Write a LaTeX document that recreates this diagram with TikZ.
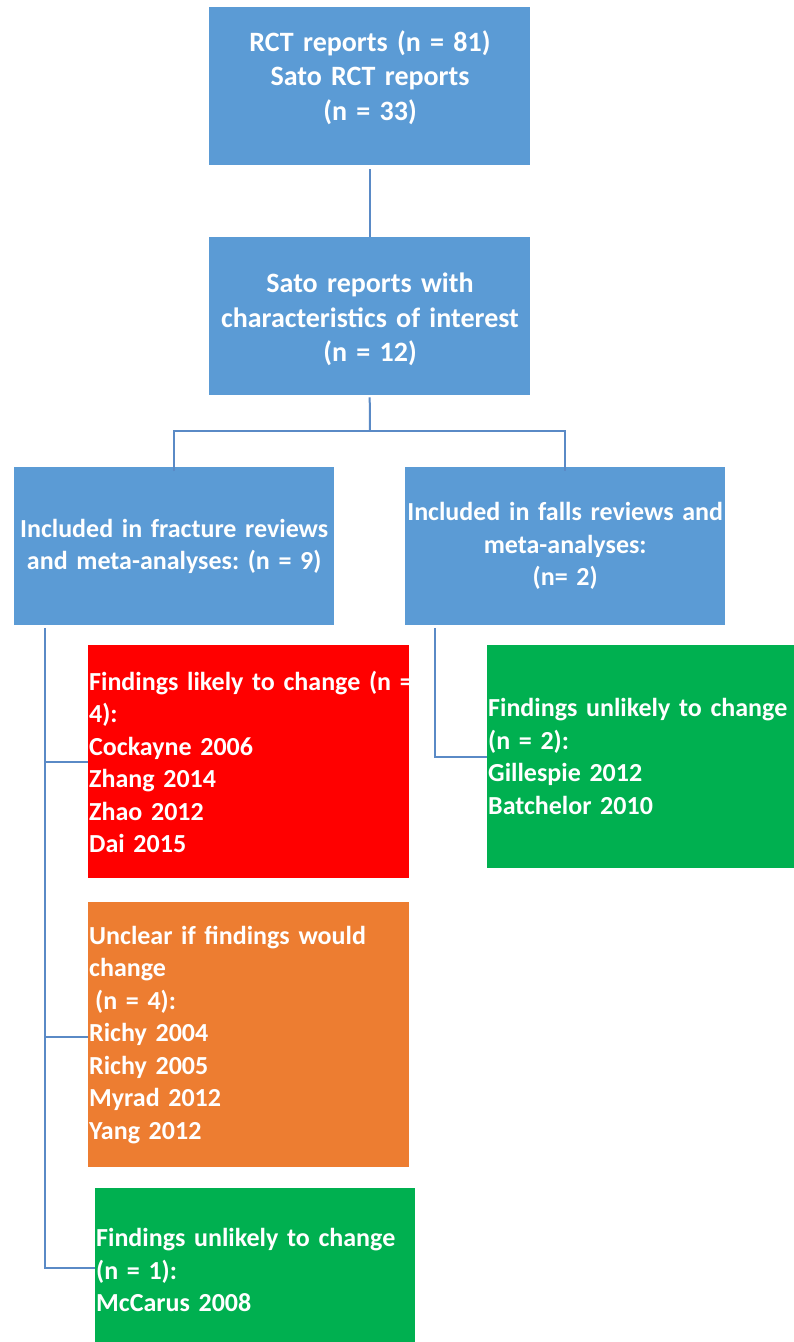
\documentclass[tikz,border=0pt]{standalone}
\usepackage{fontspec}
\setmainfont{Carlito}[BoldFont={Carlito Bold}]
\definecolor{boxblue}{HTML}{5B9BD5}
\definecolor{linkblue}{HTML}{5A8AC6}
\definecolor{boxred}{HTML}{FF0000}
\definecolor{boxorange}{HTML}{ED7D31}
\definecolor{boxgreen}{HTML}{00B050}
\frenchspacing
\begin{document}
\begin{tikzpicture}[x=1pt,y=-1pt,
  box/.style={anchor=north west, inner xsep=1pt, inner ysep=0pt, text=white,
    font=\bfseries\fontsize{26}{32.5}\selectfont},
  cbox/.style={box, align=center},
  lbox/.style={box, align=left},
  toptext/.style={anchor=center, inner sep=0pt, text=white, align=center,
    text width=319pt, font=\bfseries\fontsize{28}{34.5}\selectfont},
  link/.style={draw=linkblue, line width=2pt}]
\useasboundingbox (0,0) rectangle (794,1342);
\fill[white] (0,0) rectangle (794,1342);
\node[box, fill=boxblue, minimum width=321pt, minimum height=158pt] (b1) at (209,7) {};
\node[toptext] (b1t) at (370,77.5) {RCT reports (n = 81)\\Sato RCT reports\\(n = 33)};
\node[box, fill=boxblue, minimum width=321pt, minimum height=158pt] (b2) at (209,237) {};
\node[toptext] (b2t) at (370,319.5) {Sato reports with\\characteristics of interest\\(n = 12)};
\node[cbox, fill=boxblue, text width=318pt, minimum height=158pt] (b3) at (14,467)
  {Included in fracture reviews\\and meta-analyses: (n = 9)};
\node[cbox, fill=boxblue, text width=318pt, minimum height=158pt] (b4) at (405,467)
  {Included in falls reviews and\\meta-analyses:\\(n= 2)};
\node[lbox, fill=boxred, text width=319pt, minimum height=233pt] (red) at (88,645)
  {\mbox{Findings likely to change (n =}\\4):\\Cockayne 2006\\Zhang 2014\\Zhao 2012\\Dai 2015};
\node[lbox, fill=boxorange, text width=319pt, minimum height=265pt] (org) at (88,902)
  {Unclear if findings would\\change\\\hspace*{6pt}(n = 4):\\Richy 2004\\Richy 2005\\Myrad 2012\\Yang 2012};
\node[lbox, fill=boxgreen, text width=318pt, minimum height=164pt] (g1) at (95,1188)
  {Findings unlikely to change\\(n = 1):\\McCarus 2008};
\node[lbox, fill=boxgreen, text width=305pt, minimum height=223pt] (g2) at (487,645)
  {\mbox{Findings unlikely to change}\\(n = 2):\\Gillespie 2012\\Batchelor 2010};
\coordinate (split) at (370,431);
\coordinate (trunkL) at (45,628);
\coordinate (trunkR) at (435,628);
\draw[link] ([yshift=-4pt]b1.south) -- (b2.north);
\draw[link] ([yshift=-2pt]b2.south) -- (split);
\draw[link] ([yshift=-4pt]b3.north) |- (split) -| ([yshift=-4pt]b4.north);
\draw[link] (trunkL) |- ([yshift=2pt]g1.west);
\draw[link] (trunkL |- red.west) -- (red.west);
\draw[link] ([yshift=-2pt]trunkL |- org.west) -- ([yshift=-2pt]org.west);
\draw[link] (trunkR) |- (g2.west);
\end{tikzpicture}
\end{document}
